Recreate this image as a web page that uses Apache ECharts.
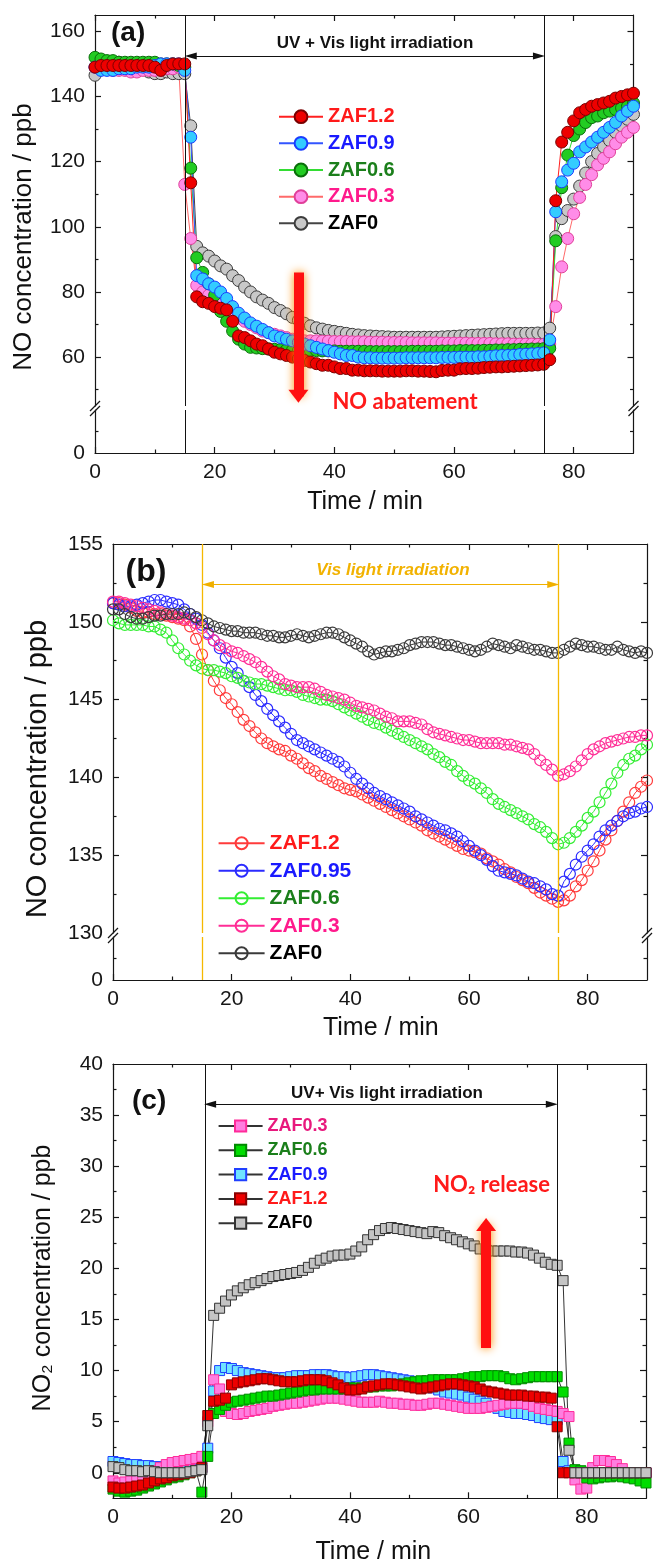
<!DOCTYPE html>
<html><head><meta charset="utf-8">
<script src="https://cdn.jsdelivr.net/npm/echarts@6/dist/echarts.min.js"></script>
<style>html,body{margin:0;padding:0;background:#fff}#c{width:656px;height:1563px}</style>
</head><body><div id="c"></div><script>
// ---------- data ----------
const time = [0,1,2,3,4,5,6,7,8,9,10,11,12,13,14,15,16,17,18,19,20,21,22,23,24,25,26,27,28,29,30,31,32,33,34,35,36,37,38,39,40,41,42,43,44,45,46,47,48,49,50,51,52,53,54,55,56,57,58,59,60,61,62,63,64,65,66,67,68,69,70,71,72,73,74,75,76,77,78,79,80,81,82,83,84,85,86,87,88,89,90];

// panel (a) NO concentration, UV + Vis
const aZAF12 = [149,149.5,149.5,149.5,149.5,149.5,149.5,149.5,149.5,149.5,
149,148,149.5,150,150,150,113.5,78.5,77,76.5,
75.5,75,74.5,71,66.5,66,65,64,63.5,62.5,
61.5,61,60.5,60,59.5,59,58.5,58,57.5,57.5,
57,56.5,56.5,56,56,55.8,55.8,55.8,55.7,55.7,
55.7,55.7,55.8,55.8,55.7,55.7,55.6,55.5,55.9,56,
56,56.4,56.5,56.5,56.6,56.8,56.9,57,57,57.1,
57.2,57.3,57.4,57.5,57.6,57.8,59.2,108,126,129,
132.5,135,136,137,137.5,138,138.5,139.5,140,140.5,
141];
const aZAF09 = [149,148,148,148,148.5,148.5,148.5,149,149,149,
149.5,150,150,150,150,148,127.5,85,84,82.5,
81.5,80,78,75.5,73.5,72,70.5,69.5,68.5,67.5,
66.5,66,65.5,65,64.5,64,63.5,63,62.5,62,
61.5,61,60.5,60.5,60,59.8,59.8,59.7,59.7,59.7,
59.7,59.7,59.8,59.8,59.8,59.8,59.8,59.8,59.9,59.9,
59.9,60,60,60,60.1,60.1,60.2,60.4,60.5,60.5,
60.6,60.8,60.9,61,61.1,61.3,65.3,104.6,113.8,117.4,
119.5,123,124.5,126,127.5,129,130.5,132,134,135.5,
137];
const aZAF06 = [152,151.5,151,151,150.5,150.5,150.5,150.5,150.5,150.5,
150.5,150,150,150,149.5,149,118,90.5,86,82.5,
79,74,71,68,65.5,64,63,62.8,62.6,62.5,
62.4,62.3,62.2,62.1,62,62,62,62,61.9,61.9,
61.9,61.8,61.8,61.8,61.8,61.8,61.7,61.7,61.7,61.7,
61.7,61.7,61.7,61.8,61.8,61.8,61.8,61.8,61.9,61.9,
61.9,62,62,62,62,62.1,62.1,62.2,62.2,62.3,
62.3,62.4,62.4,62.5,62.5,62.6,62.7,95.7,112,122,
128,130,132,133.5,134,135,135.5,136,136.5,137,
138];
const aZAF03 = [149,149,148.5,148,148,148,147.5,147.5,148,148,
148,148,148.5,148.5,149,113,96.4,82,80,79,
78,77,76,74,72,71,70,69,68,67.5,
67,66.5,66,65.5,65.2,65,65,65,64.9,64.9,
64.8,64.8,64.8,64.7,64.7,64.7,64.6,64.6,64.6,64.5,
64.5,64.5,64.5,64.4,64.4,64.4,64.4,64.4,64.3,64.3,
64.3,64.3,64.3,64.2,64.2,64.2,64.2,64.1,64.1,64.1,
64,64,64,64,63.9,63.9,64,75.5,87.7,96.4,
104,109,113,116,119,121,123,125.5,127.5,129,
130.5];
const aZAF0 = [146.5,149.5,150,150,150.5,150,150,149.5,148.5,147.5,
147,147,147.5,147,147,147,131,94,92,91,
89.5,88,87,85,83.5,81.5,80,78.5,77.5,76.5,
75.2,74.3,73.3,72.2,71.3,70.4,69.6,69,68.6,68.2,
67.9,67.6,67.3,67,66.8,66.6,66.5,66.4,66.3,66.2,
66.1,66.1,66.1,66.1,66.1,66.1,66.1,66.1,66.2,66.3,
66.4,66.5,66.6,66.7,66.8,66.9,67,67.1,67.2,67.3,
67.3,67.3,67.3,67.3,67.4,67.4,68.9,97,102.5,105,
108.5,112.5,116.5,120,122.5,124.5,126.5,129,131,133,
134.5];

// panel (b) NO concentration, Vis
const bZAF12 = [151.2,151.2,151.1,150.9,150.7,150.6,150.6,150.5,150.5,150.4,
150.3,150.2,150.1,149.7,148.9,147.9,146.9,146.2,145.6,145.1,
144.7,144.2,143.7,143.3,142.9,142.5,142.2,142.0,141.8,141.7,
141.4,141.2,140.9,140.6,140.4,140.1,139.9,139.7,139.5,139.3,
139.2,139.1,138.9,138.7,138.5,138.3,138.1,137.9,137.7,137.5,
137.3,137.1,136.9,136.6,136.4,136.2,136.0,135.8,135.6,135.4,
135.3,135.2,135.1,134.8,134.6,134.4,134.1,133.9,133.6,133.4,
133.2,132.9,132.6,132.4,132.2,132.0,132.1,132.4,133.0,133.4,
134.0,134.6,135.3,136.0,136.6,137.2,137.8,138.4,139.0,139.4,
139.8];
const bZAF095 = [151.2,151.1,151.0,151.0,151.1,151.2,151.3,151.4,151.4,151.3,
151.2,151.1,150.8,150.5,150.2,149.8,149.3,148.8,148.3,147.7,
147.1,146.7,146.2,145.8,145.3,144.9,144.4,144.0,143.6,143.2,
142.8,142.4,142.2,142.0,141.8,141.6,141.4,141.2,141.0,140.7,
140.3,139.9,139.6,139.3,139.0,138.8,138.6,138.4,138.2,138.0,
137.8,137.5,137.3,137.1,136.9,136.7,136.6,136.4,136.2,135.9,
135.6,135.3,135.0,134.7,134.3,134.0,133.9,133.8,133.7,133.5,
133.3,133.2,133.0,132.8,132.5,132.4,133.3,133.8,134.4,134.9,
135.3,135.7,136.2,136.6,136.9,137.2,137.5,137.7,137.8,138.0,
138.1];
const bZAF06 = [150.1,149.9,149.8,149.8,149.8,149.8,149.7,149.7,149.5,149.3,
148.8,148.3,147.9,147.5,147.2,147.0,146.9,146.9,146.8,146.7,
146.5,146.4,146.2,146.1,146.0,146.0,145.9,145.8,145.7,145.6,
145.6,145.5,145.3,145.2,145.1,145.0,145.0,144.9,144.7,144.5,
144.3,144.1,143.9,143.7,143.5,143.4,143.2,143.0,142.8,142.6,
142.4,142.2,142.0,141.8,141.5,141.3,141.0,140.8,140.4,140.1,
139.8,139.6,139.3,139.0,138.6,138.3,138.1,137.9,137.7,137.5,
137.3,137.0,136.8,136.5,136.1,135.7,135.8,136.1,136.5,136.9,
137.4,137.8,138.4,139.0,139.6,140.3,140.8,141.2,141.4,141.8,
142.1];
const bZAF03 = [151.3,151.3,151.2,151.1,151.0,150.9,150.8,150.7,150.6,150.5,
150.4,150.3,150.2,150.1,149.9,149.6,149.2,148.8,148.5,148.3,
148.1,148.0,147.8,147.6,147.4,147.1,146.8,146.5,146.3,146.0,
145.9,145.8,145.8,145.8,145.7,145.5,145.3,145.2,145.1,145.0,
144.8,144.6,144.5,144.4,144.3,144.1,143.9,143.8,143.6,143.6,
143.6,143.5,143.4,143.1,142.9,142.8,142.7,142.6,142.5,142.4,
142.4,142.3,142.2,142.2,142.2,142.2,142.1,142.1,142.0,141.9,
141.8,141.5,141.1,140.8,140.5,140.1,140.2,140.4,140.7,141.1,
141.5,141.8,142.0,142.2,142.3,142.4,142.5,142.6,142.6,142.7,
142.7];
const bZAF0 = [150.8,150.8,150.5,150.3,150.2,150.2,150.3,150.4,150.4,150.5,
150.5,150.5,150.6,150.5,150.3,150.1,149.9,149.7,149.6,149.5,
149.4,149.4,149.3,149.3,149.3,149.2,149.1,149.1,149.0,149.0,
149.1,149.2,149.1,149.0,149.1,149.2,149.3,149.3,149.2,149.0,
148.8,148.6,148.4,148.1,147.9,148.0,148.1,148.1,148.2,148.3,
148.5,148.6,148.7,148.7,148.7,148.6,148.5,148.5,148.4,148.3,
148.2,148.1,148.2,148.4,148.6,148.5,148.4,148.3,148.5,148.4,
148.3,148.2,148.2,148.1,148.0,148.0,148.2,148.4,148.6,148.5,
148.4,148.4,148.3,148.2,148.2,148.4,148.2,148.1,148.0,148.1,
148.0];

// panel (c) NO2 concentration, UV + Vis
const cZAF03 = [-0.8,-1.0,-0.9,-0.8,-0.6,-0.4,-0.1,0.2,0.5,0.8,
1.0,1.1,1.2,1.3,1.4,1.6,5.0,9.1,8.2,6.0,
5.8,5.7,5.8,6.0,6.1,6.2,6.3,6.5,6.6,6.7,
6.8,6.8,6.9,7.0,7.1,7.2,7.3,7.3,7.3,7.2,
7.1,7.0,6.9,6.9,6.9,7.0,6.9,6.8,6.8,6.7,
6.7,6.6,6.6,6.7,6.8,6.8,6.7,6.6,6.5,6.4,
6.3,6.3,6.3,6.4,6.5,6.6,6.7,6.8,6.8,6.8,
6.7,6.5,6.3,6.2,6.1,6.0,5.8,5.5,-0.7,-1.6,
-1.5,0.5,1.2,1.2,1.1,0.8,0.4,0.0,0.0,0.0,
0.0];
const cZAF06 = [-1.6,-1.8,-1.9,-1.8,-1.7,-1.5,-1.3,-1.1,-0.9,-0.7,
-0.5,-0.4,-0.2,0.0,0.2,-1.9,1.6,5.8,6.2,6.6,
6.9,7.0,7.1,7.2,7.3,7.4,7.5,7.5,7.6,7.7,
7.8,7.9,8.0,8.1,8.1,8.2,8.2,8.2,8.2,8.2,
8.3,8.3,8.3,8.4,8.4,8.5,8.5,8.5,8.6,8.7,
8.8,8.9,9.0,9.0,9.1,9.1,9.1,9.1,9.1,9.2,
9.3,9.4,9.4,9.5,9.5,9.5,9.4,9.2,9.1,9.2,
9.3,9.4,9.4,9.4,9.4,9.4,7.9,2.9,0.3,0.2,
-0.5,-0.6,-0.5,-0.4,-0.4,-0.3,-0.4,-0.5,-0.6,-0.8,
-1.0];
const cZAF09 = [1.1,1.0,0.9,0.8,0.8,0.7,0.7,0.6,0.6,0.5,
0.5,0.4,0.4,0.3,0.3,0.5,2.4,8.0,10.0,10.3,
10.2,10.0,9.8,9.7,9.6,9.5,9.4,9.3,9.3,9.3,
9.4,9.5,9.5,9.5,9.6,9.6,9.6,9.5,9.4,9.4,
9.3,9.4,9.5,9.6,9.6,9.5,9.4,9.3,9.2,9.1,
9.0,8.9,8.8,8.6,8.3,8.1,7.9,7.8,7.7,7.6,
7.4,7.2,7.0,6.8,6.5,6.3,6.0,5.9,5.8,5.8,
5.7,5.6,5.4,5.3,5.2,5.2,1.1,0.2,0.0,0.0,
0.0,0.0,0.0,0.0,0.0,0.0,0.0,0.0,0.0,0.0,
0.0];
const cZAF12 = [-1.4,-1.5,-1.5,-1.4,-1.3,-1.2,-1.0,-0.8,-0.6,-0.5,
-0.3,-0.2,-0.1,0.0,0.2,0.5,5.6,7.0,7.1,7.3,
8.6,8.8,8.9,9.0,9.1,9.2,9.2,9.1,9.0,8.9,
8.9,8.9,9.0,9.1,9.1,9.1,9.0,8.8,8.6,8.3,
8.1,8.1,8.2,8.4,8.5,8.6,8.7,8.7,8.6,8.5,
8.4,8.3,8.2,8.3,8.4,8.5,8.6,8.7,8.7,8.6,
8.5,8.4,8.2,8.0,7.9,7.8,7.7,7.6,7.6,7.6,
7.5,7.5,7.4,7.4,7.3,4.5,0.0,0.0,0.0,0.0,
0.0,0.0,0.0,0.0,0.0,0.0,0.0,0.0,0.0,0.0,
0.0];
const cZAF0 = [0.6,0.5,0.3,0.2,0.2,0.1,0.2,0.1,0.0,0.0,
0.0,0.0,0.0,0.1,0.2,0.3,4.6,15.4,16.1,16.8,
17.4,17.8,18.1,18.4,18.6,18.8,19.0,19.2,19.3,19.4,
19.5,19.6,19.8,20.1,20.5,20.8,21.0,21.2,21.3,21.3,
21.4,21.7,22.1,22.8,23.3,23.7,23.9,24.0,23.9,23.8,
23.7,23.6,23.5,23.4,23.6,23.5,23.2,23.0,22.8,22.6,
22.4,22.2,21.9,21.8,21.7,21.7,21.7,21.7,21.6,21.6,
21.5,21.3,21.0,20.6,20.4,20.3,18.8,2.2,0.0,0.0,
0.0,0.0,0.0,0.0,0.0,0.0,0.0,0.0,0.0,0.0,
0.0];

// tick labels / tick positions
const xLabels = [0,20,40,60,80];
const xMinor = [10,30,50,70];
const aYLabels = [60,80,100,120,140,160];
const aYMinor = [50,70,90,110,130,150];
const bYLabels = [130,135,140,145,150,155];
const bYMajorTicks = [135,140,145,150];
const bYMinor = [132.5,137.5,142.5,147.5,152.5];
const cYLabels = [0,5,10,15,20,25,30,35,40];
const cYMajorTicks = [0,5,10,15,20,25,30,35];
const cYMinor = [2.5,7.5,12.5,17.5,22.5,27.5,32.5,37.5];
const lowLabels = [0];
const lowMinor = [5];

// ---------- styling ----------
const SANS = "'Liberation Sans', Arial, Helvetica, sans-serif";
const NOTE = "Lato, 'Open Sans', 'Liberation Sans', sans-serif";
const AX = '#161616';
const pair = ys => time.map((t, i) => [t, ys[i]]);

function axis(gi, pos, min, max, o) {
  const isX = pos === 'top' || pos === 'bottom';
  return {
    type: 'value', gridIndex: gi, position: pos, min: min, max: max,
    axisLine: { show: !!o.line, onZero: false, lineStyle: { color: AX, width: 1.2 } },
    axisTick: o.ticks ? { show: true, inside: true, length: o.len || 6, customValues: o.ticks, lineStyle: { color: AX, width: 1.2 } } : { show: false },
    axisLabel: o.labels ? { show: true, customValues: o.labels, margin: isX ? 8.5 : 10, fontSize: 21, fontFamily: SANS, color: AX } : { show: false },
    splitLine: { show: false }, minorTick: { show: false }, minorSplitLine: { show: false }
  };
}

const xAxis = [
  axis(0, 'top', 0, 90, { line: true, ticks: xLabels }),
  axis(0, 'top', 0, 90, { ticks: xMinor, len: 3.5 }),
  axis(1, 'bottom', 0, 90, { line: true, ticks: xLabels, labels: xLabels }),
  axis(1, 'bottom', 0, 90, { ticks: xMinor, len: 3.5 }),
  axis(2, 'top', 0, 90, { line: true, ticks: xLabels }),
  axis(2, 'top', 0, 90, { ticks: xMinor, len: 3.5 }),
  axis(3, 'bottom', 0, 90, { line: true, ticks: xLabels, labels: xLabels }),
  axis(3, 'bottom', 0, 90, { ticks: xMinor, len: 3.5 }),
  axis(4, 'bottom', 0, 90, { line: true, ticks: xLabels, labels: xLabels }),
  axis(4, 'bottom', 0, 90, { ticks: xMinor, len: 3.5 }),
  axis(4, 'top', 0, 90, { line: true, ticks: xLabels }),
  axis(4, 'top', 0, 90, { ticks: xMinor, len: 3.5 })
];
const yAxis = [
  axis(0, 'left', 45, 165, { line: true, ticks: aYLabels, labels: aYLabels }),
  axis(0, 'left', 45, 165, { ticks: aYMinor, len: 3.5 }),
  axis(0, 'right', 45, 165, { line: true, ticks: aYLabels }),
  axis(0, 'right', 45, 165, { ticks: aYMinor, len: 3.5 }),
  axis(1, 'left', 0, 10, { line: true, ticks: lowMinor, len: 3.5, labels: lowLabels }),
  axis(1, 'right', 0, 10, { line: true, ticks: lowMinor, len: 3.5 }),
  axis(2, 'left', 130, 155, { line: true, ticks: bYMajorTicks, labels: bYLabels }),
  axis(2, 'left', 130, 155, { ticks: bYMinor, len: 3.5 }),
  axis(2, 'right', 130, 155, { line: true, ticks: bYMajorTicks }),
  axis(2, 'right', 130, 155, { ticks: bYMinor, len: 3.5 }),
  axis(3, 'left', 0, 10, { line: true, ticks: lowMinor, len: 3.5, labels: lowLabels }),
  axis(3, 'right', 0, 10, { line: true, ticks: lowMinor, len: 3.5 }),
  axis(4, 'left', -2.5, 40, { line: true, ticks: cYMajorTicks, labels: cYLabels }),
  axis(4, 'left', -2.5, 40, { ticks: cYMinor, len: 3.5 }),
  axis(4, 'right', -2.5, 40, { line: true, ticks: cYMajorTicks }),
  axis(4, 'right', -2.5, 40, { ticks: cYMinor, len: 3.5 })
];

function ser(name, ys, xi, yi, sym, size, fill, border, lineColor, bw) {
  return {
    name: name, type: 'line', xAxisIndex: xi, yAxisIndex: yi, data: pair(ys),
    symbol: sym, symbolSize: size, showSymbol: true,
    lineStyle: { color: lineColor, width: 1 },
    itemStyle: { color: fill, borderColor: border, borderWidth: bw },
    emphasis: { disabled: true }, silent: true
  };
}
function marks(xi, yi, ml) {
  return { type: 'line', xAxisIndex: xi, yAxisIndex: yi, data: [], symbol: 'none', silent: true,
    markLine: Object.assign({ silent: true, label: { show: false }, emphasis: { disabled: true }, animation: false }, ml) };
}
const vlines = (xs, color, w) => ({ symbol: ['none', 'none'], lineStyle: { color: color, width: w, type: 'solid' }, data: xs.map(v => ({ xAxis: v })) });
const dArrow = (x1, x2, y, color) => ({ symbol: ['triangle', 'triangle'], symbolSize: [7, 12], lineStyle: { color: color, width: 1, type: 'solid' }, data: [[{ coord: [x1, y] }, { coord: [x2, y] }]] });
const redArrow = (x, y1, y2) => ({ symbol: ['none', 'triangle'], symbolSize: [20, 13], lineStyle: { color: '#ff1010', width: 10, type: 'solid', shadowBlur: 10, shadowColor: '#ff8c00' }, data: [[{ coord: [x, y1] }, { coord: [x, y2] }]] });

const series = [
  // (a)
  ser('ZAF0|a', aZAF0, 0, 0, 'circle', 12, '#c8c8c8', '#3c3c3c', '#444444', 1),
  ser('ZAF0.3|a', aZAF03, 0, 0, 'circle', 12, '#ff8ce8', '#e0409a', '#ff6a6a', 1),
  ser('ZAF0.6|a', aZAF06, 0, 0, 'circle', 12, '#22cc22', '#0a6e0a', '#33dd33', 1),
  ser('ZAF0.9|a', aZAF09, 0, 0, 'circle', 12, '#33ccff', '#1a3cff', '#3355ff', 1),
  ser('ZAF1.2|a', aZAF12, 0, 0, 'circle', 12, '#ee0000', '#7a0000', '#ff2020', 1),
  marks(0, 0, vlines([15, 75], '#111', 1)),
  marks(0, 0, dArrow(16, 74.2, 152.4, '#111')),
  marks(0, 0, redArrow(34, 86, 48)),
  marks(2, 4, vlines([15, 75], '#111', 1)),
  // (b)
  ser('ZAF1.2|b', bZAF12, 4, 6, 'circle', 11, 'rgba(255,255,255,0)', '#ff3b3b', '#ff3b3b', 1.2),
  ser('ZAF0.95|b', bZAF095, 4, 6, 'circle', 11, 'rgba(255,255,255,0)', '#2b2bff', '#2b2bff', 1.2),
  ser('ZAF0.6|b', bZAF06, 4, 6, 'circle', 11, 'rgba(255,255,255,0)', '#33ee33', '#33ee33', 1.2),
  ser('ZAF0.3|b', bZAF03, 4, 6, 'circle', 11, 'rgba(255,255,255,0)', '#ff2d96', '#ff2d96', 1.2),
  ser('ZAF0|b', bZAF0, 4, 6, 'circle', 11, 'rgba(255,255,255,0)', '#3a3a3a', '#3a3a3a', 1.2),
  marks(4, 6, vlines([15, 75], '#f5b800', 1.3)),
  marks(4, 6, dArrow(16, 74.2, 152.4, '#f0b000')),
  marks(6, 10, vlines([15, 75], '#f5b800', 1.3)),
  // (c)
  ser('ZAF0.9|c', cZAF09, 8, 12, 'rect', 10, '#6fe3ff', '#2040ff', '#333333', 1),
  ser('ZAF0.3|c', cZAF03, 8, 12, 'rect', 10, '#ff7ee0', '#ff2b9a', '#333333', 1),
  ser('ZAF0.6|c', cZAF06, 8, 12, 'rect', 10, '#00dd00', '#008a00', '#333333', 1),
  ser('ZAF1.2|c', cZAF12, 8, 12, 'rect', 10, '#ee0000', '#8a0000', '#333333', 1),
  ser('ZAF0|c', cZAF0, 8, 12, 'rect', 10, '#c4c4c4', '#333333', '#333333', 1),
  marks(8, 12, vlines([15.5, 75], '#111', 1)),
  marks(8, 12, dArrow(16.4, 74.1, 36.05, '#111')),
  marks(8, 12, redArrow(63, 12.2, 24.3))
];

const fmt = n => n.split('|')[0];
function lg(left, top, iw, ih, gap, fs, items) {
  return { orient: 'vertical', left: left, top: top, itemWidth: iw, itemHeight: ih, itemGap: gap, padding: 0,
    selectedMode: false, formatter: fmt, textStyle: { fontSize: fs, fontWeight: 'bold', fontFamily: SANS },
    data: items.map(it => ({ name: it[0], textStyle: { color: it[1] } })) };
}
const RED = '#ff1a1a', BLUE = '#1a1aff', GREEN = '#1b7f1b', PINK = '#ff1a8c', BLACK = '#000000';
const legend = [
  lg(278, 106.7, 44, 16, 6.65, 20, [['ZAF1.2|a', RED], ['ZAF0.9|a', BLUE], ['ZAF0.6|a', GREEN], ['ZAF0.3|a', PINK], ['ZAF0|a', BLACK]]),
  lg(217.6, 832.8, 46, 15, 6.5, 21, [['ZAF1.2|b', RED], ['ZAF0.95|b', BLUE], ['ZAF0.6|b', GREEN], ['ZAF0.3|b', PINK], ['ZAF0|b', BLACK]]),
  lg(217.6, 1117, 44, 14, 6.3, 18, [['ZAF0.3|c', '#e8197d'], ['ZAF0.6|c', GREEN], ['ZAF0.9|c', BLUE], ['ZAF1.2|c', RED], ['ZAF0|c', BLACK]])
];

function txt(x, y, text, font, fill, align, rot) {
  const e = { type: 'text', x: x, y: y, silent: true, style: { text: text, font: font, fill: fill || '#111', textAlign: align || 'center', textVerticalAlign: 'middle' } };
  if (rot) e.rotation = rot;
  return e;
}
function brk(x, y) {
  return [
    { type: 'line', silent: true, shape: { x1: x - 5, y1: y - 2 + 5, x2: x + 5, y2: y - 2 - 5 }, style: { stroke: AX, lineWidth: 1.2 } },
    { type: 'line', silent: true, shape: { x1: x - 5, y1: y + 3 + 5, x2: x + 5, y2: y + 3 - 5 }, style: { stroke: AX, lineWidth: 1.2 } }
  ];
}
const graphic = [
  txt(111, 33, '(a)', "bold 28px " + SANS, '#111', 'left'),
  txt(375, 43, 'UV + Vis light irradiation', "bold 17px " + SANS, '#111'),
  txt(405, 402, 'NO abatement', "bold 22px " + NOTE, '#ff1a1a'),
  txt(24, 237, 'NO concentration / ppb', "26px " + SANS, '#111', 'center', Math.PI / 2),
  txt(365, 501.7, 'Time / min', "25px " + SANS, '#111'),
  txt(125.5, 571.7, '(b)', "bold 32px " + SANS, '#111', 'left'),
  txt(393, 570.7, 'Vis light irradiation', "italic bold 17px " + SANS, '#f2b200'),
  txt(38, 769, 'NO concentration / ppb', "29px " + SANS, '#111', 'center', Math.PI / 2),
  txt(380.8, 1028.3, 'Time / min', "25px " + SANS, '#111'),
  txt(132, 1101.7, '(c)', "bold 28px " + SANS, '#111', 'left'),
  txt(387, 1093, 'UV+ Vis light irradiation', "bold 17px " + SANS, '#111'),
  txt(491.6, 1185, 'NO\u2082 release', "bold 22px " + NOTE, '#ff1a1a'),
  txt(43, 1278, 'NO\u2082 concentration / ppb', "25px " + SANS, '#111', 'center', Math.PI / 2),
  txt(373.4, 1551.7, 'Time / min', "25px " + SANS, '#111')
].concat(brk(95, 408), brk(633.5, 408), brk(113, 935), brk(647, 935));

const grid = [
  { left: 95, right: 22.5, top: 15, height: 391 },
  { left: 95, right: 22.5, top: 410, height: 43 },
  { left: 113, right: 9, top: 544, height: 389 },
  { left: 113, right: 9, top: 937, height: 43 },
  { left: 113, right: 10, top: 1064, height: 434.3 }
].map(g => Object.assign(g, { containLabel: false, outerBoundsMode: 'none' }));

const chart = echarts.init(document.getElementById('c'), null, { renderer: 'canvas' });
chart.setOption({
  animation: false, backgroundColor: '#ffffff',
  grid: grid, xAxis: xAxis, yAxis: yAxis, series: series, legend: legend, graphic: graphic
});
</script></body></html>
